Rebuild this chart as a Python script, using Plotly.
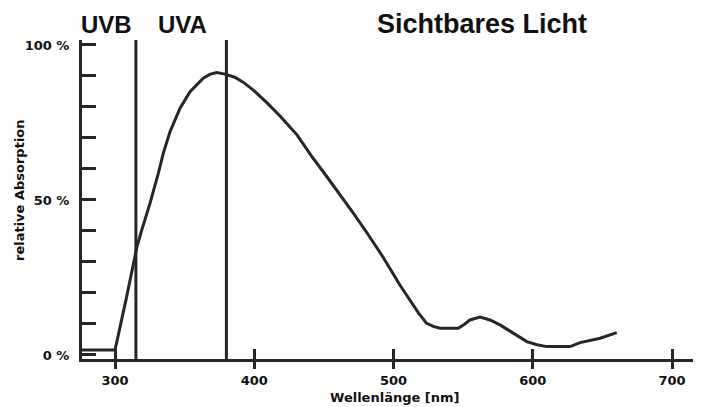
import plotly.graph_objects as go

# Data
wavelength = [276, 300, 308, 315.8, 319.2, 325.1, 331.1, 334.7, 339.5, 346.7, 353.9, 363.4,
              368, 373, 379, 386, 392, 400, 409.2, 418.5, 430.7, 441, 452.3, 462, 471,
              482, 492.4, 504.7, 511.8, 518, 523.8, 528.6, 533.4, 540, 546.5, 551, 554.9,
              562.1, 569.3, 576.5, 586, 595.7, 603, 610, 626.8, 634, 648.3, 660.3]
absorption = [1.6, 1.6, 18, 35, 40.3, 48.9, 58.6, 65.1, 72, 79.6, 84.9, 89.3,
              90.5, 91.1, 90.6, 89.6, 88, 85.2, 81.3, 77.1, 71, 64.2, 57.4, 51.5, 45.8,
              38.7, 31.6, 22.5, 17.7, 13.5, 10.2, 9.2, 8.6, 8.5, 8.6, 9.9, 11.3,
              12.2, 11.3, 9.7, 7, 4.3, 3.3, 2.7, 2.7, 4, 5.4, 7.2]
band_limits = [315, 380]
band_labels = ["UVB", "UVA", "Sichtbares Licht"]
x_ticks = [300, 400, 500, 600, 700]
x_ticktext = ["300", "400", "500", "600", "700"]
y_ticks = [0, 10, 20, 30, 40, 50, 60, 70, 80, 90, 100]
y_ticktext = ["0 %", "", "", "", "", "50 %", "", "", "", "", "100 %"]
x_title = "Wellenlänge [nm]"
y_title = "relative Absorption"

ink = "#262626"
small_font = dict(family="DejaVu Sans", size=13, color="#111")
big_font = "Liberation Sans"

fig = go.Figure()
fig.add_trace(go.Scatter(x=wavelength, y=absorption, mode="lines",
                         line=dict(color=ink, width=3),
                         xaxis="x", yaxis="y", showlegend=False, hoverinfo="skip"))
for b in band_limits:
    fig.add_vline(x=b, line=dict(color=ink, width=3))

xr = [276.3, 720.8]
yr = [-1.3, 101.6]
fig.update_layout(
    width=693, height=399,
    margin=dict(l=74, r=0, t=32, b=48),
    paper_bgcolor="white", plot_bgcolor="white",
    showlegend=False,
    xaxis=dict(range=xr, tickvals=x_ticks, ticktext=["<b>%s</b>" % t for t in x_ticktext],
               ticks="outside", ticklen=7, tickwidth=3,
               tickcolor=ink, showline=True, linecolor=ink, linewidth=3,
               showgrid=False, zeroline=False, tickfont=small_font, fixedrange=True),
    xaxis2=dict(range=xr, overlaying="x", tickvals=x_ticks, ticks="inside", ticklen=10,
                tickwidth=3, tickcolor=ink, showticklabels=False, showline=False,
                showgrid=False, zeroline=False, side="bottom", anchor="y"),
    yaxis=dict(range=yr, tickvals=y_ticks,
               ticktext=["<b>%s</b>" % t if t else "" for t in y_ticktext],
               ticks="inside", ticklen=14, tickwidth=3, tickcolor=ink, showline=True,
               linecolor=ink, linewidth=3, showgrid=False, zeroline=False,
               tickfont=small_font, ticklabelstandoff=7, fixedrange=True),
)
# dummy trace to activate xaxis2
fig.add_trace(go.Scatter(x=[None], y=[None], xaxis="x2", yaxis="y", showlegend=False))

ann_pos = [0.0388, 0.162, 0.647]
ann_size = [24, 24, 27]
for lab, xp, sz in zip(band_labels, ann_pos, ann_size):
    fig.add_annotation(text="<b>%s</b>" % lab, xref="paper", yref="paper", x=xp, y=1.05,
                       xanchor="center", yanchor="middle", showarrow=False,
                       font=dict(family=big_font, size=sz, color="#111"))
fig.add_annotation(text="<b>%s</b>" % x_title, xref="paper", yref="paper", x=0.505, y=-0.122,
                   xanchor="center", yanchor="middle", showarrow=False,
                   font=dict(family="DejaVu Sans", size=13, color="#111"))
fig.add_annotation(text="<b>%s</b>" % y_title, xref="paper", yref="paper", x=-0.1, y=0.53,
                   xanchor="center", yanchor="middle", showarrow=False, textangle=-90,
                   font=dict(family="DejaVu Sans", size=13, color="#111"))

fig.write_html("out.html")
